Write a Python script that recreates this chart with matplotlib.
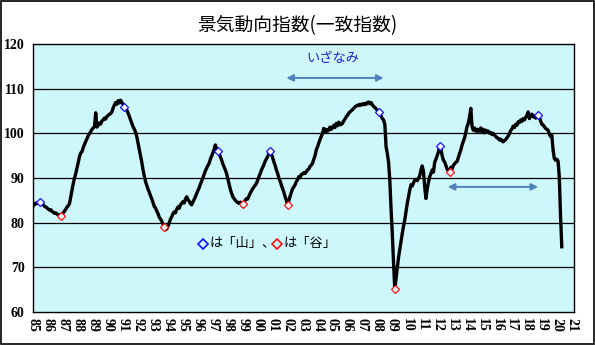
import numpy as np
import matplotlib.pyplot as plt
from matplotlib.patches import Rectangle

plt.rcParams['font.family'] = ['Noto Sans CJK JP', 'DejaVu Sans']

# coincident index, monthly from Jan 1985
ci = [
    83.8, 84.3, 84.2, 84.5, 84.3, 84.7, 84.4, 84.2, 84.0, 83.6, 83.5, 83.3,   # 1985
    83.0, 82.8, 82.9, 82.5, 82.3, 82.1, 82.2, 81.9, 81.7, 81.8, 81.5, 81.9,   # 1986
    82.2, 82.6, 83.0, 83.5, 83.8, 84.3, 85.8, 87.3, 88.8, 90.0, 91.0, 92.2,   # 1987
    93.5, 94.8, 95.6, 95.9, 96.8, 97.5, 98.2, 98.8, 99.5, 99.9, 100.4, 100.9,  # 1988
    101.2, 101.5, 104.6, 101.4, 101.8, 102.3, 102.1, 102.8, 103.0, 103.4, 103.2, 103.8,  # 1989
    104.0, 104.3, 104.4, 104.8, 105.7, 106.3, 106.9, 106.5, 107.3, 106.8, 107.4, 106.9,  # 1990
    106.5, 105.9, 105.6, 105.2, 104.5, 103.8, 103.0, 102.2, 101.5, 100.9, 100.3, 99.2,   # 1991
    97.8, 96.5, 95.0, 93.5, 91.8, 90.4, 89.2, 88.3, 87.5, 86.8, 86.0, 85.3,   # 1992
    84.5, 83.6, 83.3, 82.6, 82.0, 81.2, 80.8, 80.3, 79.7, 79.0, 78.4, 78.6,   # 1993
    79.2, 80.0, 80.8, 81.3, 82.0, 82.4, 82.2, 83.0, 83.5, 83.2, 84.0, 84.3,   # 1994
    84.7, 84.4, 85.3, 85.8, 85.2, 84.8, 84.3, 84.0, 84.6, 85.2, 85.8, 86.5,   # 1995
    87.2, 87.8, 88.6, 89.3, 90.0, 90.8, 91.6, 92.2, 92.8, 93.3, 94.2, 94.9,   # 1996
    95.6, 96.4, 97.4, 96.5, 96.1, 95.4, 94.8, 94.0, 93.2, 92.5, 91.8, 91.0,   # 1997
    89.8, 88.6, 87.5, 86.6, 85.8, 85.4, 85.0, 84.7, 84.5, 84.3, 84.6, 84.2,   # 1998
    84.1, 84.6, 85.0, 85.4, 85.3, 86.0, 86.6, 87.1, 87.6, 88.0, 88.4, 88.8,   # 1999
    89.5, 90.3, 91.0, 91.8, 92.4, 93.0, 93.8, 94.3, 94.8, 95.5, 96.0, 95.4,   # 2000
    94.5, 93.6, 92.8, 91.8, 91.0, 90.0, 89.3, 88.4, 87.6, 86.8, 85.8, 85.0,   # 2001
    83.9, 85.0, 85.9, 86.8, 87.6, 88.0, 88.5, 89.2, 89.6, 90.3, 90.1, 90.8,   # 2002
    90.9, 91.2, 91.0, 91.4, 91.8, 92.0, 92.6, 92.9, 93.3, 94.2, 95.0, 96.3,   # 2003
    97.0, 97.8, 98.6, 99.3, 100.0, 101.1, 100.3, 100.9, 100.5, 100.7, 101.4, 100.9,  # 2004
    101.2, 101.8, 101.3, 102.2, 101.7, 102.5, 101.9, 102.0, 102.2, 102.8, 103.2, 103.7,  # 2005
    104.0, 104.5, 104.8, 105.0, 105.3, 105.6, 105.9, 106.1, 106.3, 106.2, 106.5, 106.3,  # 2006
    106.6, 106.4, 106.7, 106.5, 106.9, 107.0, 106.6, 106.9, 106.4, 106.0, 105.8, 105.5,  # 2007
    105.2, 104.8, 104.5, 103.9, 103.3, 103.0, 102.0, 97.0, 95.5, 93.5, 89.5, 83.0,  # 2008
    77.5, 71.0, 65.1, 67.5, 69.8, 72.2, 74.0, 75.8, 77.6, 79.2, 80.6, 82.4,   # 2009
    84.3, 85.8, 87.3, 88.5, 88.2, 88.9, 89.5, 89.7, 89.4, 89.9, 90.5, 91.8,   # 2010
    92.7, 91.5, 88.0, 85.4, 87.5, 89.0, 90.3, 91.0, 91.8, 91.3, 93.5, 94.2,   # 2011
    95.0, 95.8, 97.2, 96.5, 95.0, 94.0, 93.6, 92.8, 92.0, 91.6, 91.3, 92.4,   # 2012
    92.0, 92.8, 93.2, 93.5, 93.7, 94.6, 95.5, 96.3, 97.4, 98.2, 99.0, 100.2,  # 2013
    101.5, 102.3, 103.7, 105.6, 101.5, 100.7, 101.2, 100.5, 100.9, 100.4, 100.8, 101.2,  # 2014
    100.2, 100.9, 100.1, 100.7, 100.3, 100.5, 100.0, 100.2, 99.7, 100.0, 99.6, 99.3,  # 2015
    99.0, 98.9, 98.5, 98.7, 98.3, 98.1, 98.4, 98.6, 99.0, 99.4, 100.0, 100.6,  # 2016
    101.0, 101.6, 101.3, 102.0, 101.8, 102.6, 102.4, 103.0, 102.7, 103.3, 103.0, 103.6,  # 2017
    104.0, 104.8, 103.3, 103.8, 104.3, 103.7, 103.9, 103.4, 103.8, 104.1, 103.5, 102.8,  # 2018
    102.0, 101.9, 101.5, 101.1, 100.9, 100.7, 99.8, 99.3, 99.6, 96.3, 94.4, 94.0,  # 2019
    94.2, 93.8, 90.3, 81.5, 74.6,   # 2020
]

# months (counted from Jan 1985) of business cycle peaks and troughs
peaks = [5, 73, 148, 190, 277, 326, 405]
troughs = [22, 105, 168, 204, 290, 334]

year_labels = ['%02d' % (y % 100) for y in range(1985, 2022)]

months = np.arange(len(ci))
ci = np.array(ci)

fig = plt.figure(figsize=(5.95, 3.45), dpi=100)
fig.patches.append(Rectangle((0.001, 0.002), 0.997, 0.995, transform=fig.transFigure,
                             fill=False, edgecolor='k', linewidth=1.2))
ax = fig.add_axes([0.0555, 0.0957, 0.9092, 0.7768])
ax.set_facecolor('#cdf7fb')

for v in range(70, 120, 10):
    ax.axhline(v, color='k', lw=0.9, zorder=1)

ax.plot(months, ci, color='k', lw=2.4, zorder=3, solid_joinstyle='round')
ax.plot(months[peaks], ci[peaks], 'D', ms=4.2, mfc='white', mec='#1010ff', mew=0.9, zorder=4)
ax.plot(months[troughs], ci[troughs], 'D', ms=4.2, mfc='white', mec='#ff1010', mew=0.9, zorder=4)

# expansion periods
arrow_kw = dict(arrowstyle='<|-|>', color='#4f81bd', lw=1.4, mutation_scale=10, shrinkA=0, shrinkB=0)
ax.annotate('', xy=(troughs[3] - 1, 112.4), xytext=(peaks[4] + 4, 112.4), arrowprops=arrow_kw)
ax.annotate('', xy=(troughs[5] - 1.5, 88.0), xytext=(peaks[6], 88.0), arrowprops=arrow_kw)
ax.text((troughs[3] + peaks[4]) / 2, 116.8, 'いざなみ', color='#2020d0', fontsize=9.5,
        ha='center', va='center')

# key for the markers
ax.plot([0.314], [0.254], 'D', ms=5, mfc='none', mec='#1010ff', mew=1.2, transform=ax.transAxes)
ax.text(0.326, 0.254, 'は「山」、', fontsize=9.5, ha='left', va='center', transform=ax.transAxes)
ax.plot([0.451], [0.254], 'D', ms=5, mfc='none', mec='#ff1010', mew=1.2, transform=ax.transAxes)
ax.text(0.463, 0.254, 'は「谷」', fontsize=9.5, ha='left', va='center', transform=ax.transAxes)

ax.set_xlim(-0.3, 433.8)
ax.set_ylim(60, 120)
ax.set_yticks(range(60, 121, 10))
ax.set_xticks(np.arange(len(year_labels)) * 12)
ax.set_xticklabels(year_labels, rotation=270)
ax.tick_params(axis='x', length=0, pad=4)
ax.tick_params(axis='y', length=0, pad=6)
for lab in ax.get_xticklabels() + ax.get_yticklabels():
    lab.set_family('Liberation Serif')
    lab.set_weight('bold')
    lab.set_fontsize(10)
for s in ax.spines.values():
    s.set_linewidth(1.0)

fig.text(0.5, 0.925, '景気動向指数(一致指数)', fontsize=13.5, ha='center', va='center')

fig.savefig('out.png', dpi=100)
